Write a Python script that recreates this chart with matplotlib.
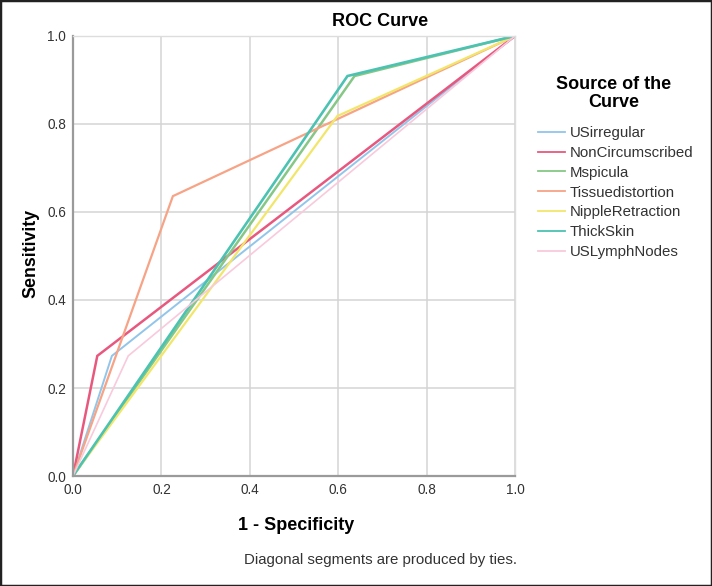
import numpy as np
import matplotlib
matplotlib.use("Agg")
import matplotlib.pyplot as plt
from matplotlib.patches import Rectangle

plt.rcParams['font.family'] = ['Liberation Sans', 'DejaVu Sans']

# ROC curve points (1 - specificity, sensitivity)
names = ['USirregular', 'NonCircumscribed', 'Mspicula', 'Tissuedistortion',
         'NippleRetraction', 'ThickSkin', 'USLymphNodes']
fpr = [[0, 0.088, 1], [0, 0.055, 1], [0, 0.637, 1], [0, 0.226, 1],
       [0, 0.598, 1], [0, 0.621, 1], [0, 0.125, 1]]
tpr = [[0, 0.273, 1], [0, 0.273, 1], [0, 0.909, 1], [0, 0.636, 1],
       [0, 0.818, 1], [0, 0.909, 1], [0, 0.273, 1]]
colors = ['#92c5ea', '#e8587e', '#86c786', '#f7a386',
          '#f2e66a', '#4cc2b2', '#f9c9dc']
widths = [1.4, 1.8, 1.8, 1.6, 1.6, 1.9, 1.2]
ticks = [0.0, 0.2, 0.4, 0.6, 0.8, 1.0]

fig = plt.figure(figsize=(7.12, 5.86), dpi=100)
ax = fig.add_axes([0.1025, 0.1877, 0.6208, 0.7509])

lines = []
for i in range(len(names)):
    ln, = ax.plot(fpr[i], tpr[i], color=colors[i], lw=widths[i], label=names[i],
                  solid_joinstyle='miter')
    lines.append(ln)

ax.set_xlim(0, 1)
ax.set_ylim(0, 1)
ax.set_xticks(ticks)
ax.set_yticks(ticks)
ax.set_xticklabels(['%.1f' % t for t in ticks])
ax.set_yticklabels(['%.1f' % t for t in ticks])
ax.tick_params(length=0, labelsize=9.8, colors='#333333', pad=5)
ax.grid(color='#d4d4d4', lw=1.1)
ax.set_axisbelow(True)
for s in ['top', 'right']:
    ax.spines[s].set_color('#dddddd')
    ax.spines[s].set_linewidth(1.0)
for s in ['bottom', 'left']:
    ax.spines[s].set_color('#9a9a9a')
    ax.spines[s].set_linewidth(1.6)

fig.text(0.534, 0.963, 'ROC Curve', ha='center', va='center',
         fontsize=13, fontweight='bold')
fig.text(0.044, 0.568, 'Sensitivity', ha='center', va='center', rotation=90,
         fontsize=12.8, fontweight='bold')
fig.text(0.416, 0.104, '1 - Specificity', ha='center', va='center',
         fontsize=13, fontweight='bold')
fig.text(0.726, 0.044, 'Diagonal segments are produced by ties.', ha='right',
         va='center', fontsize=10.8, color='#333333')

# legend title drawn on its own so its spacing can match
fig.text(0.8624, 0.840, 'Source of the\nCurve', ha='center', va='center',
         fontsize=13, fontweight='bold', multialignment='center', linespacing=1.1)

leg = fig.legend(handles=lines, loc='upper left', bbox_to_anchor=(0.755, 0.785),
                 frameon=False, fontsize=10.8, handlelength=1.8,
                 handletextpad=0.33, labelspacing=0.39,
                 borderpad=0, borderaxespad=0)
for t in leg.get_texts():
    t.set_color('#333333')
for h in leg.legend_handles:
    h.set_linewidth(1.3)

# dark frame around the whole image
fig.patches.append(Rectangle((0, 0), 1, 1, transform=fig.transFigure,
                             fill=False, ec='#222222', lw=2.5))

fig.savefig('out.png', dpi=100)
